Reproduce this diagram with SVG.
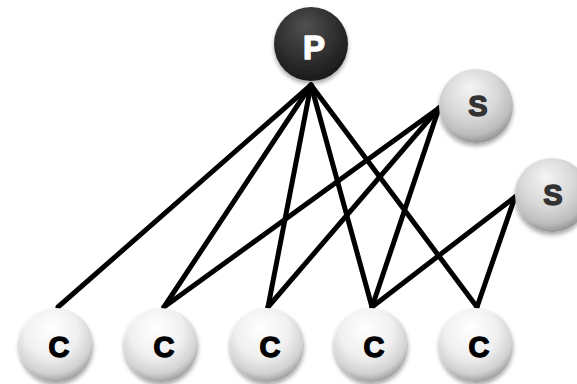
<svg xmlns="http://www.w3.org/2000/svg" width="577" height="384" viewBox="0 0 577 384">
<style>
.edge{stroke:#000;stroke-width:5;stroke-linecap:round;fill:none}
.lbl{font-family:"Liberation Sans",Arial,sans-serif;font-weight:bold;text-anchor:middle;dominant-baseline:central;stroke-width:1.4;stroke-linejoin:round}
.c{fill:url(#gC);filter:url(#sh)}
.s{fill:url(#gS);filter:url(#sh)}
.p{fill:url(#gP);filter:url(#sh)}
</style>
<defs>
<radialGradient id="gC" cx="45%" cy="35%" r="65%" fx="42%" fy="25%">
<stop offset="0" stop-color="#ffffff"/>
<stop offset="0.55" stop-color="#f0f0f0"/>
<stop offset="0.85" stop-color="#d2d2d2"/>
<stop offset="1" stop-color="#a0a0a0"/>
</radialGradient>
<radialGradient id="gS" cx="45%" cy="35%" r="65%" fx="42%" fy="25%">
<stop offset="0" stop-color="#f4f4f4"/>
<stop offset="0.55" stop-color="#d8d8d8"/>
<stop offset="0.85" stop-color="#bdbdbd"/>
<stop offset="1" stop-color="#959595"/>
</radialGradient>
<radialGradient id="gP" cx="45%" cy="35%" r="65%" fx="42%" fy="25%">
<stop offset="0" stop-color="#505050"/>
<stop offset="0.6" stop-color="#303030"/>
<stop offset="1" stop-color="#1a1a1a"/>
</radialGradient>
<filter id="sh" x="-30%" y="-30%" width="160%" height="170%">
<feDropShadow dx="0" dy="3" stdDeviation="2" flood-color="#000" flood-opacity="0.35"/>
</filter>
</defs>
<g id="connectors">
<line class="edge" x1="311" y1="85" x2="58" y2="307"/>
<line class="edge" x1="311" y1="85" x2="164" y2="307"/>
<line class="edge" x1="311" y1="85" x2="268" y2="307"/>
<line class="edge" x1="311" y1="85" x2="372" y2="307"/>
<line class="edge" x1="311" y1="85" x2="477" y2="307"/>
<line class="edge" x1="439" y1="108" x2="164" y2="307"/>
<line class="edge" x1="439" y1="108" x2="268" y2="307"/>
<line class="edge" x1="439" y1="108" x2="372" y2="307"/>
<line class="edge" x1="515" y1="197" x2="372" y2="307"/>
<line class="edge" x1="515" y1="197" x2="477" y2="307"/>
</g>
<g id="P">
<circle class="p" cx="311" cy="44" r="37"/>
<text class="lbl" x="314" y="47" font-size="33" fill="#ffffff" stroke="#ffffff">P</text>
</g>
<g id="S1">
<circle class="s" cx="476" cy="106" r="37"/>
<text class="lbl" x="478" y="106" font-size="29" fill="#333333" stroke="#333333">S</text>
</g>
<g id="S2">
<circle class="s" cx="552" cy="195" r="37"/>
<text class="lbl" x="553" y="195" font-size="29" fill="#333333" stroke="#333333">S</text>
</g>
<g id="C1">
<circle class="c" cx="56" cy="345" r="37"/>
<text class="lbl" x="59" y="347" font-size="29" fill="#000000" stroke="#000000">C</text>
</g>
<g id="C2">
<circle class="c" cx="161" cy="345" r="37"/>
<text class="lbl" x="164" y="347" font-size="29" fill="#000000" stroke="#000000">C</text>
</g>
<g id="C3">
<circle class="c" cx="267" cy="345" r="37"/>
<text class="lbl" x="270" y="347" font-size="29" fill="#000000" stroke="#000000">C</text>
</g>
<g id="C4">
<circle class="c" cx="371" cy="345" r="37"/>
<text class="lbl" x="374" y="347" font-size="29" fill="#000000" stroke="#000000">C</text>
</g>
<g id="C5">
<circle class="c" cx="476" cy="345" r="37"/>
<text class="lbl" x="479" y="347" font-size="29" fill="#000000" stroke="#000000">C</text>
</g>
</svg>
